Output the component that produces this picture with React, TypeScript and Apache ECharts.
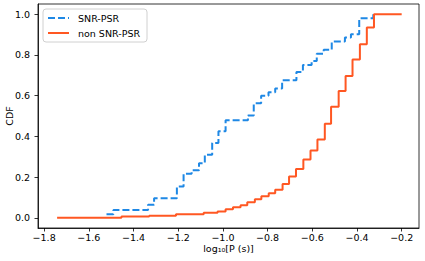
import React, { useEffect, useRef } from "react";
import * as echarts from "echarts";

const xTicks = [-1.8, -1.6, -1.4, -1.2, -1.0, -0.8, -0.6, -0.4, -0.2];
const yTicks = [0.0, 0.2, 0.4, 0.6, 0.8, 1.0];

const snrX = [-1.521, -1.49, -1.335, -1.308, -1.206, -1.176, -1.14, -1.107, -1.081, -1.048, -1.02, -0.988, -0.888, -0.862, -0.829, -0.796, -0.766, -0.735, -0.671, -0.642, -0.603, -0.58, -0.549, -0.513, -0.454, -0.427, -0.39, -0.327];
const snrY = [0.018, 0.038, 0.064, 0.096, 0.154, 0.217, 0.233, 0.268, 0.31, 0.368, 0.425, 0.479, 0.502, 0.562, 0.599, 0.617, 0.635, 0.675, 0.716, 0.75, 0.77, 0.806, 0.825, 0.866, 0.885, 0.901, 0.98, 1.0];

const nonX = [-1.742, -1.454, -1.33, -1.21, -1.086, -1.024, -0.988, -0.955, -0.921, -0.891, -0.857, -0.828, -0.795, -0.766, -0.733, -0.704, -0.673, -0.64, -0.608, -0.577, -0.544, -0.516, -0.482, -0.451, -0.42, -0.387, -0.356, -0.324, -0.2];
const nonY = [0.0, 0.006, 0.01, 0.017, 0.025, 0.031, 0.042, 0.052, 0.062, 0.076, 0.091, 0.106, 0.121, 0.138, 0.166, 0.203, 0.24, 0.286, 0.33, 0.384, 0.462, 0.545, 0.623, 0.696, 0.778, 0.852, 0.934, 1.0, 1.0];

const FONT = "DejaVu Sans";
const fmt = (v: number) => v.toFixed(1).replace("-", "\u2212");

export default function App() {
  const ref = useRef<HTMLDivElement>(null);
  useEffect(() => {
    document.body.style.margin = "0";
    const chart = echarts.init(ref.current!, null, { renderer: "svg" });
    chart.setOption({
      animation: false,
      textStyle: { fontFamily: FONT },
      grid: {
        left: 38,
        right: 6,
        top: 4,
        bottom: 33,
        outerBoundsMode: "none",
        containLabel: false,
        show: true,
        borderColor: "#000",
        borderWidth: 0.8,
        backgroundColor: "transparent",
      },
      legend: {
        orient: "vertical",
        left: 43,
        top: 9,
        padding: [4, 7, 4, 4],
        itemGap: 5,
        itemWidth: 21,
        itemHeight: 10,
        borderColor: "#d0d0d0",
        borderWidth: 1,
        borderRadius: 3,
        backgroundColor: "rgba(255,255,255,0.8)",
        itemStyle: { color: "transparent", borderWidth: 0, opacity: 0 },
        textStyle: { fontFamily: FONT, fontSize: 9.5, color: "#000", padding: [0, 0, 0, 4] },
        data: ["SNR-PSR", "non SNR-PSR"],
      },
      xAxis: {
        type: "value",
        min: -1.8275,
        max: -0.1225,
        name: "log\u2081\u2080[P (s)]",
        nameLocation: "middle",
        nameGap: 15,
        nameMoveOverlap: false,
        nameTextStyle: { fontFamily: FONT, fontSize: 9.5, color: "#000" },
        axisLine: { show: true, onZero: false, lineStyle: { color: "#000", width: 0.8 } },
        axisTick: { show: true, customValues: xTicks, length: 3.5, lineStyle: { color: "#000", width: 0.8 } },
        axisLabel: { customValues: xTicks, formatter: fmt, fontFamily: FONT, fontSize: 9.5, color: "#000", margin: 4 },
        splitLine: { show: false },
      },
      yAxis: {
        type: "value",
        min: -0.05,
        max: 1.05,
        name: "CDF",
        nameLocation: "middle",
        nameGap: 24,
        nameMoveOverlap: false,
        nameTextStyle: { fontFamily: FONT, fontSize: 9.5, color: "#000" },
        axisLine: { show: true, onZero: false, lineStyle: { color: "#000", width: 0.8 } },
        axisTick: { show: true, customValues: yTicks, length: 3.5, lineStyle: { color: "#000", width: 0.8 } },
        axisLabel: { customValues: yTicks, formatter: (v: number) => v.toFixed(1), fontFamily: FONT, fontSize: 9.5, color: "#000", margin: 8 },
        splitLine: { show: false },
      },
      series: [
        {
          name: "SNR-PSR",
          type: "line",
          step: "end",
          symbol: "none",
          data: snrX.map((x, i) => [x, snrY[i]]),
          lineStyle: { color: "#1E88E5", width: 2, type: [7, 3] },
          itemStyle: { color: "#1E88E5" },
          z: 2,
        },
        {
          name: "non SNR-PSR",
          type: "line",
          step: "end",
          symbol: "none",
          data: nonX.map((x, i) => [x, nonY[i]]),
          lineStyle: { color: "#FF5722", width: 2 },
          itemStyle: { color: "#FF5722" },
          z: 3,
        },
      ],
    });
    return () => chart.dispose();
  }, []);
  return <div ref={ref} style={{ width: 425, height: 261 }} />;
}
